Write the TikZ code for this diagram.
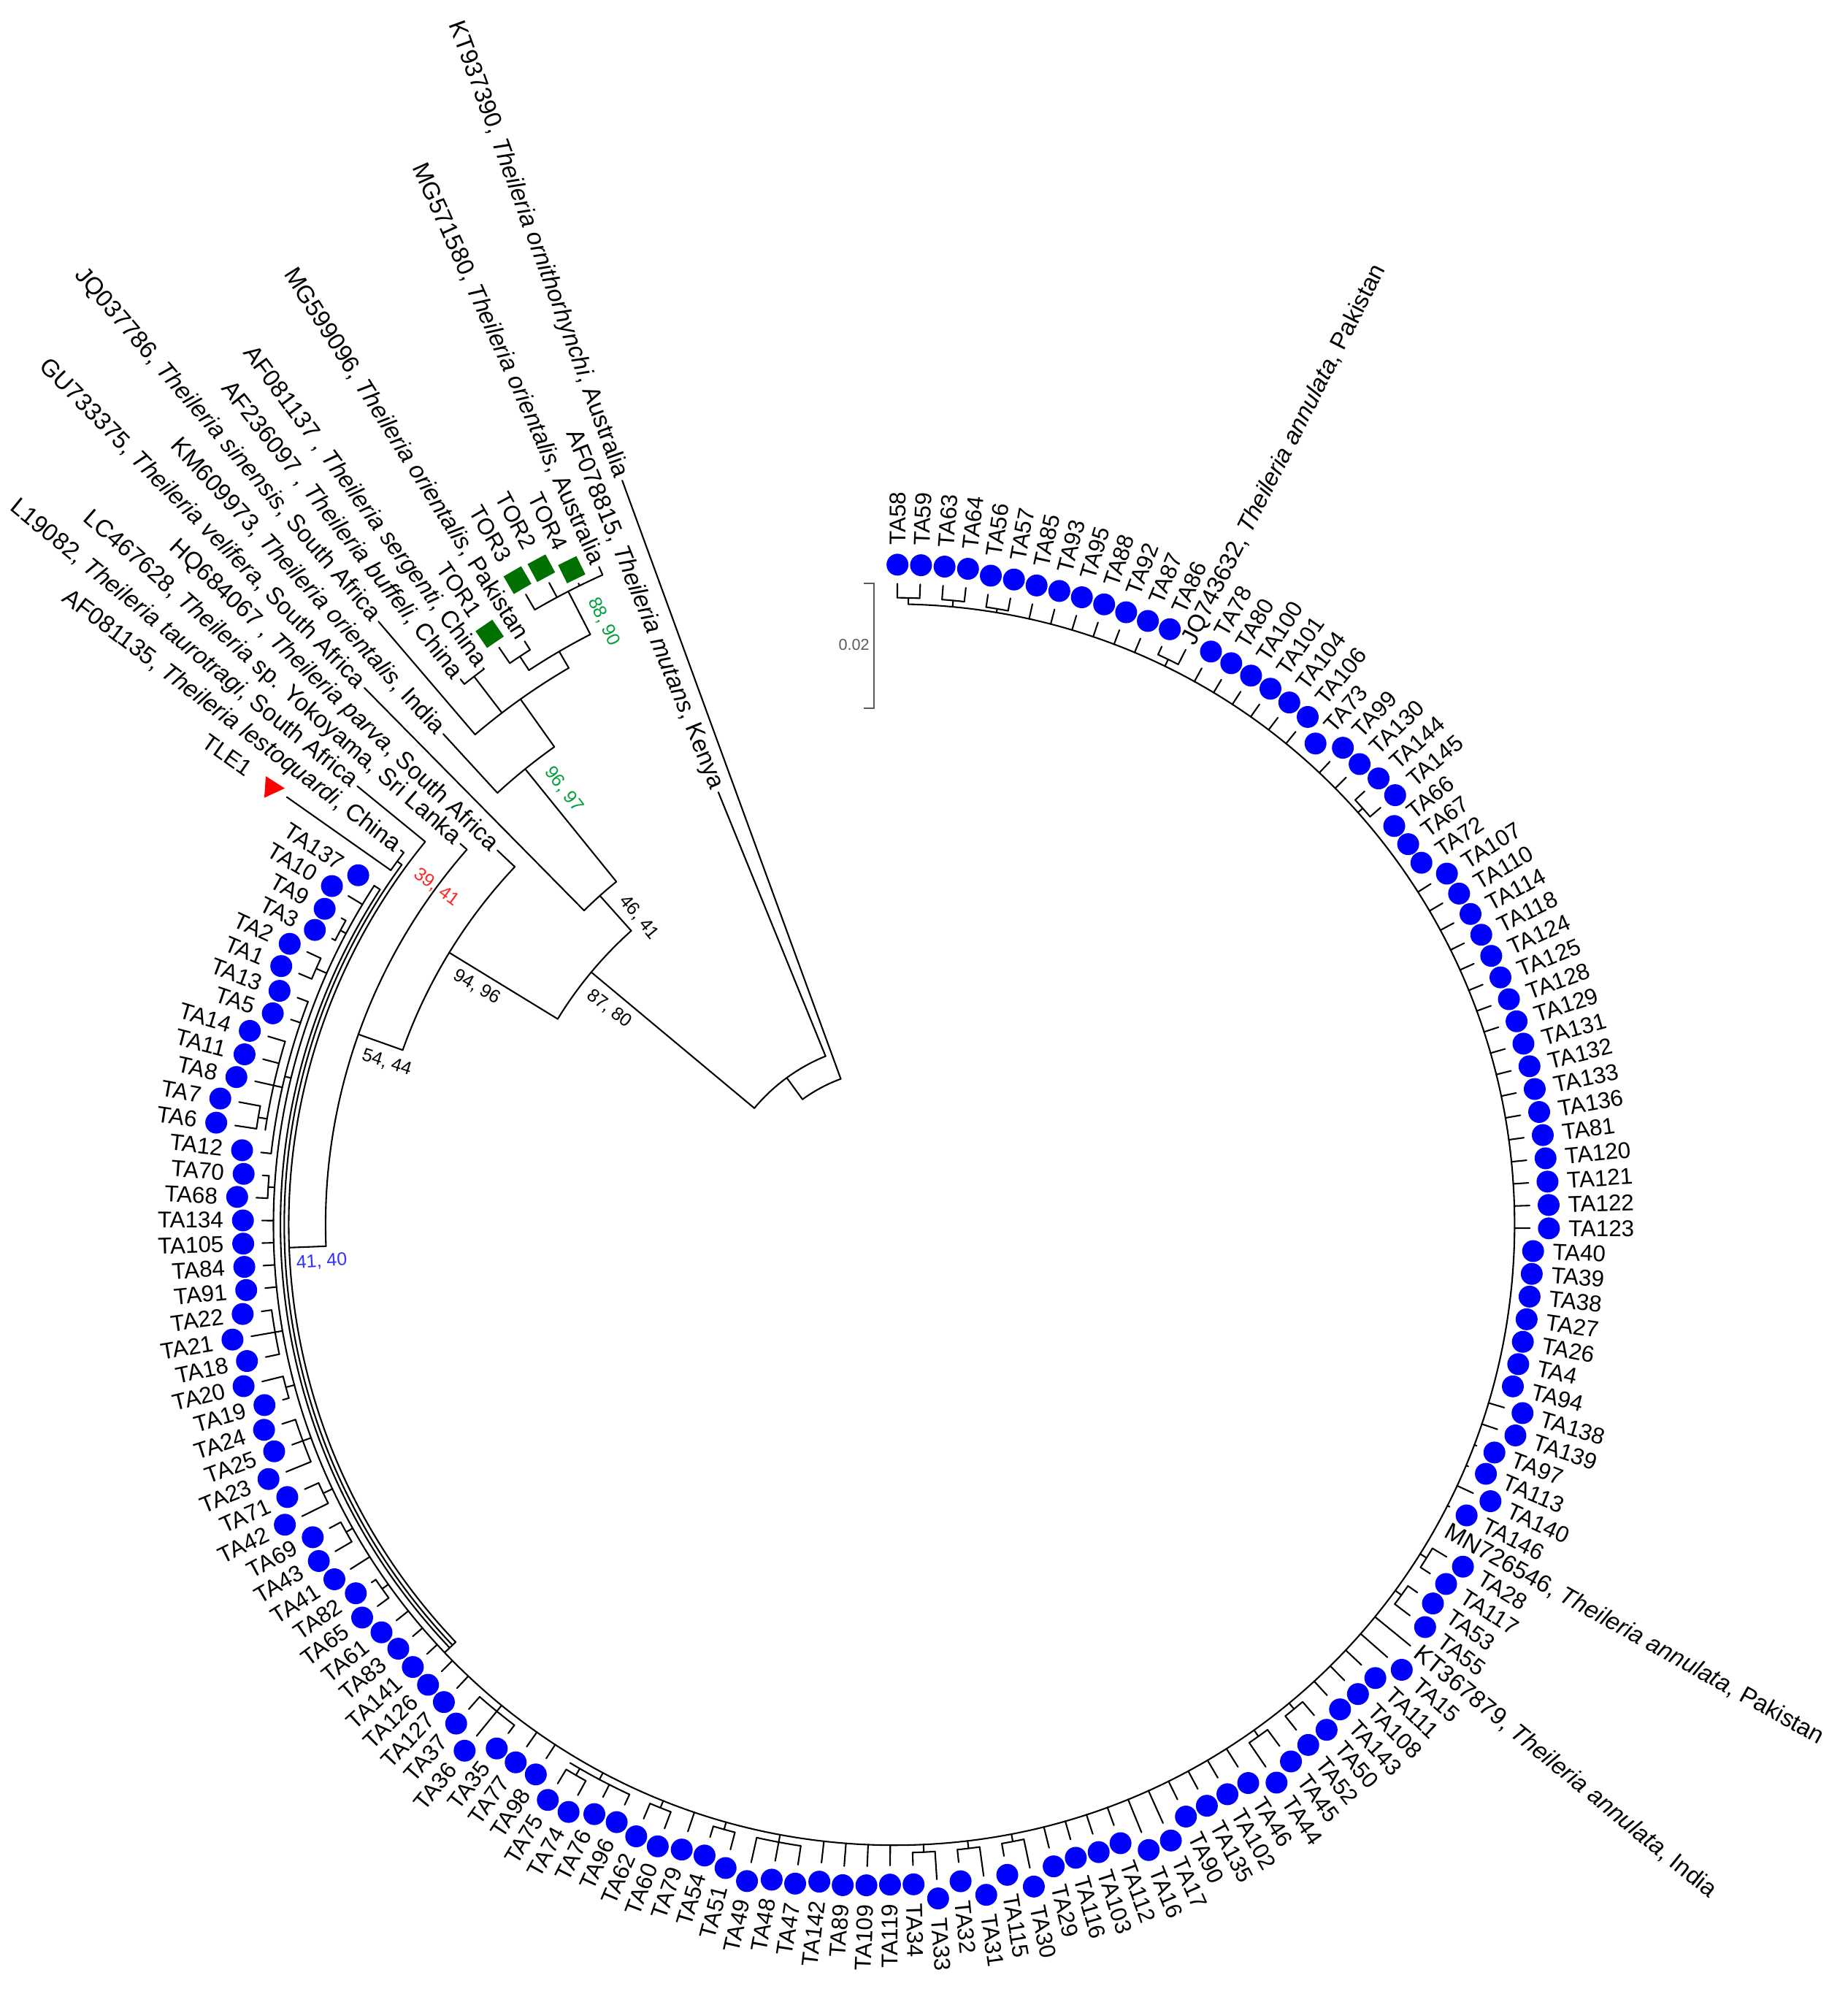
\documentclass[tikz,border=0pt]{standalone}
\usepackage{fontspec}
\setmainfont{Liberation Sans}
\definecolor{dotblue}{RGB}{0,0,255}
\definecolor{torgreen}{RGB}{0,112,0}
\definecolor{bsgreen}{RGB}{0,160,60}
\definecolor{bsblue}{RGB}{50,50,255}
\definecolor{bsred}{RGB}{255,40,40}
\definecolor{scalegray}{RGB}{90,90,90}
\tikzset{
  br/.style={line width=0.6pt, line cap=round, line join=round},
  tal/.style={inner sep=0pt, font=\fontsize{9}{10}\selectfont},
  ogl/.style={inner sep=0pt, font=\fontsize{9.5}{11}\selectfont},
  bsl/.style={inner sep=0pt, font=\fontsize{7.2}{8}\selectfont},
  torsq/.style={fill=torgreen, draw=none, rectangle, minimum size=8pt, inner sep=0pt},
}
\begin{document}
\begin{tikzpicture}[x=0.5pt,y=0.5pt]
\useasboundingbox (0,0) rectangle (1453,-1568);
\begin{scope}[shift={(703,-963)}]
% ---------- main arcs of the annulata clade ----------
\draw[br] (88.677:488) arc[start angle=88.677, end angle=-213.108, radius=488];
\draw[br] (146.892:482.5) arc[start angle=146.892, end angle=223.6, radius=482.5];
\draw[br] (146.892:482.5) -- (146.892:488);
\draw[br] (143.823:479.5) arc[start angle=143.823, end angle=223.6, radius=479.5];
\draw[br] (140.754:476) arc[start angle=140.754, end angle=223.6, radius=476];
\draw[br] (223.6:476) -- (223.6:488);
% ---------- small brackets ----------
\foreach \i/\j/\rn/\rb in {1/2/493/488,3/4/493/488,5/6/491/488,13/14/494/488,24/25/493/488,
  60/61/494/488,62/63/494/488,69/70/494/488,71/72/494/488,83/84/494/488,85/86/494/488,
  87/88/494/488,93/95/494/488,96/97/494/488,99/100/494/488,101/104/494/488,103/104/500/494,
  107/109/494/488,115/116/494/488,118/119/494/488,120/121/496/488,122/124/495/488,
  125/126/495/488,127/129/494/488,134/135/493/488,136/143/493/488,137/141/500/493,
  137/138/507/500,144/145/497/488,146/147/493/488}{
  \pgfmathsetmacro{\aa}{89.7-(\i-1)*2.046}
  \pgfmathsetmacro{\ab}{89.7-(\j-1)*2.046}
  \pgfmathsetmacro{\am}{(\aa+\ab)/2}
  \draw[br] (\aa:\rn) arc[start angle=\aa, end angle=\ab, radius=\rn];
  \draw[br] (\am:\rb) -- (\am:\rn);
}
% ---------- T. annulata isolates: branch, dot, label ----------
\foreach \i/\nm/\b/\t in {1/TA58/493/504,2/TA59/493/504,3/TA63/493/504,4/TA64/493/504,
  5/TA56/491/501,6/TA57/491/501,7/TA85/488/500,8/TA93/488/500,9/TA95/488/500,10/TA88/488/500,
  11/TA92/488/500,12/TA87/488/500,13/TA86/494/501,15/TA78/488/500,16/TA80/488/500,
  17/TA100/488/500,18/TA101/488/500,19/TA104/488/500,20/TA106/488/500,21/TA73/488/488,
  22/TA99/488/500,23/TA130/488/500,24/TA144/493/503,25/TA145/493/504,26/TA66/488/488,
  27/TA67/488/488,28/TA72/488/488,29/TA107/488/500,30/TA110/488/500,31/TA114/488/500,
  32/TA118/488/500,33/TA124/488/500,34/TA125/488/500,35/TA128/488/500,36/TA129/488/500,
  37/TA131/488/500,38/TA132/488/500,39/TA133/488/500,40/TA136/488/500,41/TA81/488/500,
  42/TA120/488/500,43/TA121/488/500,44/TA122/488/500,45/TA123/488/500,46/TA40/488/488,
  47/TA39/488/488,48/TA38/488/488,49/TA27/488/488,50/TA26/488/488,51/TA4/488/488,
  52/TA94/488/488,53/TA138/488/501,54/TA139/488/501,55/TA97/488/490,56/TA113/488/490,
  57/TA140/488/502,58/TA146/488/490,60/TA28/494/507,61/TA117/494/503,62/TA53/494/503,
  63/TA55/494/509,65/TA15/488/516,66/TA111/488/505,67/TA108/488/504,68/TA143/488/503,
  69/TA50/494/508,70/TA52/494/508,71/TA45/494/510,72/TA44/494/517,73/TA46/488/505,
  74/TA102/488/504,75/TA135/488/504,76/TA90/488/504,77/TA17/488/516,78/TA16/488/516,
  79/TA112/488/503,80/TA103/488/504,81/TA116/488/503,82/TA29/488/505,83/TA30/494/517,
  84/TA115/494/504,85/TA31/494/517,86/TA32/494/504,87/TA33/494/516,88/TA34/494/504,
  89/TA119/488/504,90/TA109/488/505,91/TA89/488/506,92/TA142/488/505,93/TA47/494/509,
  94/TA48/494/509,95/TA49/494/514,96/TA51/494/508,97/TA54/494/503,98/TA79/488/504,
  99/TA60/494/508,100/TA62/494/507,101/TA96/494/503,102/TA76/494/505,103/TA74/500/513,
  104/TA75/500/513,105/TA98/488/501,106/TA77/488/502,107/TA35/494/502,108/TA36/494/519,
  109/TA37/494/507,110/TA127/488/501,111/TA126/488/500,112/TA141/488/499,113/TA83/488/498,
  114/TA61/488/500,115/TA65/494/505,116/TA82/494/498,117/TA41/488/506,118/TA43/494/509,
  119/TA69/494/504,120/TA42/496/519,121/TA71/496/508,122/TA23/495/516,123/TA25/495/504,
  124/TA24/495/506,125/TA19/495/500,126/TA20/495/512,127/TA18/494/505,128/TA21/494/513,
  129/TA22/494/502,130/TA91/488/497,131/TA84/488/497,132/TA105/488/497,133/TA134/488/497,
  134/TA68/493/502,135/TA70/493/498,136/TA12/493/501,137/TA6/507/524,138/TA7/507/524,
  139/TA8/500/515,140/TA11/500/513,141/TA14/500/514,142/TA5/493/501,143/TA13/493/502,
  144/TA1/497/508,145/TA2/497/509,146/TA3/493/496,147/TA9/493/497,148/TA10/488/501,
  149/TA137/488/488}{
  \pgfmathsetmacro{\a}{89.7-(\i-1)*2.046}
  \pgfmathsetmacro{\rd}{\t+15}
  \pgfmathsetmacro{\rl}{\t+30}
  \draw[br] (\a:\b) -- (\a:\t);
  \fill[dotblue] (\a:\rd) circle (8.6);
  \ifdim \a pt > -90pt
    \node[tal, rotate=\a, anchor=west] (L\i) at (\a:\rl) {\nm};
  \else
    \pgfmathsetmacro{\ar}{\a+180}
    \node[tal, rotate=\ar, anchor=east] (L\i) at (\a:\rl) {\nm};
  \fi
}
% ---------- reference T. annulata sequences ----------
\draw[br] (63.102:494) -- (63.102:507);
\node[ogl, rotate=63.102, anchor=west] (jq) at (63.102:512) {JQ743632, \textit{Theileria annulata}, Pakistan};
\node[ogl, rotate=-28.968, anchor=west] (mn) at (-28.968:496) {MN726546, \textit{Theileria annulata}, Pakistan};
\draw[br] (-39.198:488) -- (-39.198:524);
\node[ogl, rotate=-39.198, anchor=west] (kt) at (-39.198:530) {KT367879, \textit{Theileria annulata}, India};
% ---------- outgroup part of the tree ----------
\draw[br] (110.064:122) arc[start angle=110.064, end angle=126.14, radius=122];
\draw[br] (110.064:122) -- (110.064:623);
\draw[br] (126.14:122) -- (126.14:143);
\draw[br] (112.11:143) arc[start angle=112.11, end angle=140.177, radius=143];
\draw[br] (112.11:143) -- (112.11:367);
\draw[br] (140.177:143) -- (140.177:310);
\draw[br] (131.803:310) arc[start angle=131.803, end angle=148.551, radius=310];
\draw[br] (131.803:310) -- (131.803:347);
\draw[br] (128.99:347) arc[start angle=128.99, end angle=134.616, radius=347];
\draw[br] (134.616:347) -- (134.616:593);
\draw[br] (128.99:347) -- (128.99:461);
\draw[br] (125.409:461) arc[start angle=125.409, end angle=132.57, radius=461];
\draw[br] (132.57:461) -- (132.57:524);
\draw[br] (125.409:461) -- (125.409:507);
\draw[br] (120.294:507) arc[start angle=120.294, end angle=130.524, radius=507];
\draw[br] (130.524:507) -- (130.524:624);
\draw[br] (127.455:507) -- (127.455:543);
\draw[br] (126.432:543) arc[start angle=126.432, end angle=128.478, radius=543];
\draw[br] (128.478:543) -- (128.478:548);
\draw[br] (126.432:543) -- (126.432:544);
\draw[br] (120.294:507) -- (120.294:522);
\draw[br] (117.225:522) arc[start angle=117.225, end angle=123.363, radius=522];
\draw[br] (123.363:522) -- (123.363:535);
\draw[br] (122.34:535) arc[start angle=122.34, end angle=124.386, radius=535];
\draw[br] (124.386:535) -- (124.386:550);
\draw[br] (122.34:535) -- (122.34:543);
\draw[br] (117.225:522) -- (117.225:560);
\draw[br] (114.156:560) arc[start angle=114.156, end angle=120.294, radius=560];
\draw[br] (120.294:560) -- (120.294:574);
\draw[br] (118.248:560) -- (118.248:573);
\draw[br] (116.202:560) -- (116.202:562);
\draw[br] (114.156:560) -- (114.156:567);
\draw[br] (148.551:310) -- (148.551:410);
\draw[br] (136.662:410) arc[start angle=136.662, end angle=160.44, radius=410];
\draw[br] (136.662:410) -- (136.662:429);
\draw[br] (160.44:410) -- (160.44:447);
\draw[br] (138.708:447) arc[start angle=138.708, end angle=182.177, radius=447];
\draw[br] (138.708:447) -- (138.708:454);
\draw[br] (182.177:447) -- (182.177:476);
\draw[br] (140.754:476) -- (140.754:545);
\draw[br] (143.823:479.5) -- (143.823:484);
\draw[br] (142.8:484) arc[start angle=142.8, end angle=144.846, radius=484];
\draw[br] (142.8:484) -- (142.8:487);
\draw[br] (144.846:484) -- (144.846:584);
% markers
\node[torsq, rotate=-63.798] (m4) at (116.202:574) {};
\node[torsq, rotate=-61.752] (m2) at (118.248:586) {};
\node[torsq, rotate=-59.706] (m3) at (120.294:587) {};
\node[torsq, rotate=-55.614] (m1) at (124.386:563) {};
\begin{scope}[shift={(144.846:597)}, rotate=-4]
  \fill[red] (9,0) -- (-6.5,8.5) -- (-6.5,-8.5) -- cycle;
\end{scope}
% outgroup labels
\node[ogl, rotate=-69.936, anchor=east] (o1) at (110.064:626) {KT937390, \textit{Theileria ornithorhynchi}, Australia};
\node[ogl, rotate=-67.89, anchor=east] (o2) at (112.11:370) {AF078815, \textit{Theileria mutans}, Kenya};
\node[ogl, rotate=-65.844, anchor=east] (o3) at (114.156:570) {MG571580, \textit{Theileria orientalis}, Australia};
\node[tal, rotate=-63.798, anchor=east] (t4) at (116.202:592) {TOR4};
\node[tal, rotate=-61.752, anchor=east] (t2) at (118.248:604) {TOR2};
\node[tal, rotate=-59.706, anchor=east] (t3) at (120.294:605) {TOR3};
\node[ogl, rotate=-57.66, anchor=east] (o4) at (122.34:546) {MG599096, \textit{Theileria orientalis}, Pakistan};
\node[tal, rotate=-55.614, anchor=east] (t1) at (124.386:581) {TOR1};
\node[ogl, rotate=-53.568, anchor=east] (o5) at (126.432:547) {AF081137 , \textit{Theileria sergenti}, China};
\node[ogl, rotate=-51.522, anchor=east] (o6) at (128.478:551) {AF236097 , \textit{Theileria buffeli}, China};
\node[ogl, rotate=-49.476, anchor=east] (o7) at (130.524:627) {JQ037786, \textit{Theileria sinensis}, South Africa};
\node[ogl, rotate=-47.43, anchor=east] (o8) at (132.57:527) {KM609973, \textit{Theileria orientalis}, India};
\node[ogl, rotate=-45.384, anchor=east] (o9) at (134.616:596) {GU733375, \textit{Theileria velifera}, South Africa};
\node[ogl, rotate=-43.338, anchor=east] (o10) at (136.662:432) {HQ684067 , \textit{Theileria parva}, South Africa};
\node[ogl, rotate=-41.292, anchor=east] (o11) at (138.708:457) {LC467628, \textit{Theileria} sp. Yokoyama, Sri Lanka};
\node[ogl, rotate=-39.246, anchor=east] (o12) at (140.754:548) {L19082, \textit{Theileria taurotragi}, South Africa};
\node[ogl, rotate=-37.2, anchor=east] (o13) at (142.8:490) {AF081135, \textit{Theileria lestoquardi}, China};
\node[tal, rotate=-35.154, anchor=east] (tle) at (144.846:619) {TLE1};
% bootstrap values
\node[bsl, rotate=-37.2] (b1) at (142.8:281) {87, 80};
\node[bsl, rotate=-29.7] (b2) at (150.3:377.6) {94, 96};
\node[bsl, rotate=-50.3] (b3) at (129.7:314) {46, 41};
\node[bsl, rotate=-17.7] (b4) at (162.3:418.7) {54, 44};
\node[bsl, rotate=3.7, text=bsblue] (b5) at (183.7:451) {41, 40};
\node[bsl, rotate=-36.4, text=bsred] (b6) at (143.6:447) {39, 41};
\node[bsl, rotate=-52.8, text=bsgreen] (b7) at (127.2:429.6) {96, 97};
\node[bsl, rotate=-64.3, text=bsgreen] (b8) at (115.7:526.2) {88, 90};
\end{scope}
% scale bar
\draw[scalegray, line width=0.6pt] (679,-459) -- (687,-459) -- (687,-557) -- (679,-557);
\node[inner sep=0pt, anchor=east, text=scalegray, font=\fontsize{6.2}{7}\selectfont] (sc) at (684,-507) {0.02};
\end{tikzpicture}
\end{document}
